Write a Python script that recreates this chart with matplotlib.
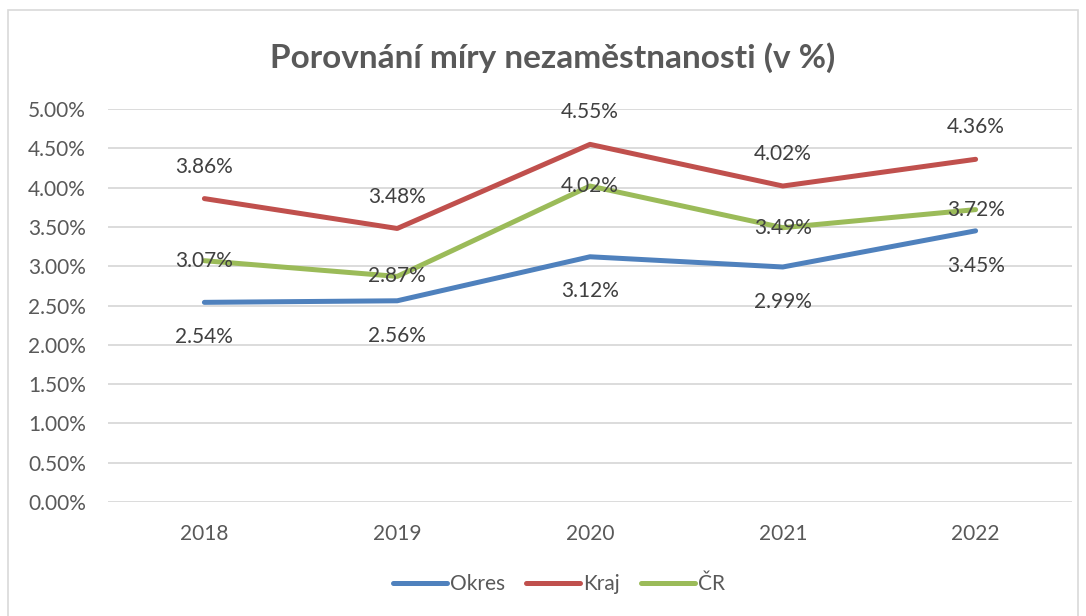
import matplotlib.pyplot as plt
from matplotlib.patches import Rectangle
from matplotlib.ticker import FuncFormatter

plt.rcParams['font.family'] = ['Lato', 'DejaVu Sans']

# data (v %)
roky = ['2018', '2019', '2020', '2021', '2022']
okres = [2.54, 2.56, 3.12, 2.99, 3.45]
kraj = [3.86, 3.48, 4.55, 4.02, 4.36]
cr = [3.07, 2.87, 4.02, 3.49, 3.72]

modra = '#4F81BD'
cervena = '#C0504D'
zelena = '#9BBB59'
seda_text = '#595959'
popisky = '#404040'

fig = plt.figure(figsize=(10.86, 6.16), dpi=100)
ax = fig.add_axes([108 / 1086, 1 - 502 / 616, 964 / 1086, 393 / 616])

x = range(len(roky))
ax.plot(x, okres, color=modra, lw=3.6, solid_capstyle='round', label='Okres')
ax.plot(x, kraj, color=cervena, lw=3.6, solid_capstyle='round', label='Kraj')
ax.plot(x, cr, color=zelena, lw=3.6, solid_capstyle='round', label='ČR')

# popisky dat
for i in x:
    ax.annotate(f'{okres[i]:.2f}%', (i, okres[i]), xytext=(0, -25), textcoords='offset points',
                ha='center', va='center', fontsize=15, color=popisky)
    ax.annotate(f'{kraj[i]:.2f}%', (i, kraj[i]), xytext=(0, 23), textcoords='offset points',
                ha='center', va='center', fontsize=15, color=popisky)
    ax.annotate(f'{cr[i]:.2f}%', (i, cr[i]), xytext=(0, 0), textcoords='offset points',
                ha='center', va='center', fontsize=15, color=popisky)

ax.set_xlim(-0.5, len(roky) - 0.5)
ax.set_ylim(0, 5)
ax.set_yticks([i * 0.5 for i in range(11)])
ax.yaxis.set_major_formatter(FuncFormatter(lambda v, p: f'{v:.2f}%'))
ax.set_xticks(list(x))
ax.set_xticklabels(roky)
ax.tick_params(axis='both', length=0, labelsize=15, labelcolor=seda_text)
ax.tick_params(axis='y', pad=16)
ax.tick_params(axis='x', pad=16)
ax.grid(axis='y', color='#D9D9D9', lw=1.3)
ax.set_axisbelow(True)
for s in ax.spines.values():
    s.set_visible(False)

fig.text(553 / 1086, 1 - 58 / 616, 'Porovnání míry nezaměstnanosti (v %)', ha='center', va='center',
         fontsize=24, fontweight='bold', color=seda_text)

fig.legend(loc='center', bbox_to_anchor=(559 / 1086, 1 - 584 / 616), ncol=3, frameon=False,
           fontsize=15, handlelength=2.6, handletextpad=0.15, columnspacing=1.0,
           labelcolor=seda_text)

fig.patches.append(Rectangle((8 / 1086, -0.02), 1070 / 1086, 1 - 10 / 616 + 0.02,
                             transform=fig.transFigure, fill=False, edgecolor='#D9D9D9', lw=1.2))

plt.savefig('out.png', dpi=100)
